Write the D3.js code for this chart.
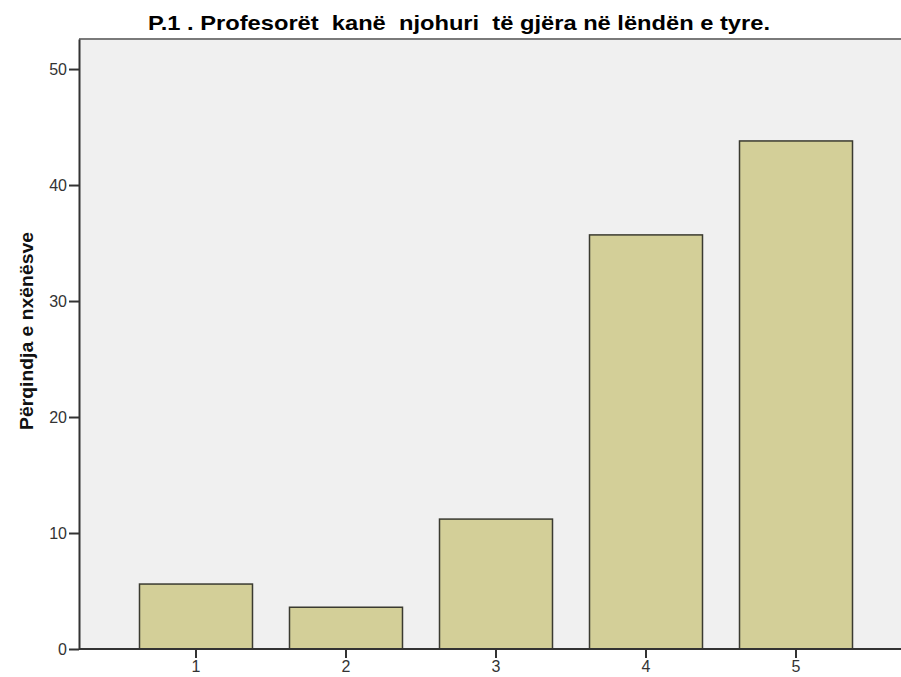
<!DOCTYPE html>
<html>
<head>
<meta charset="utf-8">
<script src="https://cdn.jsdelivr.net/npm/d3@7"></script>
<style>
  body { margin: 0; background: #fff; }
  svg { display: block; }
</style>
</head>
<body>
<svg id="chart" width="901" height="677"></svg>
<script>
(function(){
    // data
    let categories = ["1", "2", "3", "4", "5"]
    let percents = [5.6, 3.6, 11.2, 35.7, 43.8]
    let yTicks = [0, 10, 20, 30, 40, 50]
    let title = "P.1 . Profesorët  kanë  njohuri  të gjëra në lëndën e tyre."
    let yLabel = "Përqindja e nxënësve"

    let data = categories.map((c, i) => ({label: c, value: percents[i]}))

    let plot = {left: 79, top: 39, right: 901, bottom: 649}

    let svg = d3.select("svg#chart")

    // plot background
    svg.append("rect")
        .attr("x", plot.left)
        .attr("y", plot.top)
        .attr("width", plot.right - plot.left)
        .attr("height", plot.bottom - plot.top)
        .attr("fill", "#f0f0f0")

    // top frame line
    svg.append("line")
        .attr("x1", plot.left).attr("x2", plot.right)
        .attr("y1", plot.top).attr("y2", plot.top)
        .attr("stroke", "#7a7a7a")
        .attr("stroke-width", 2)

    let yScale = d3.scaleLinear()
        .domain([0, 52.59])
        .range([plot.bottom, plot.top])

    let xScale = d3.scaleBand()
        .domain(categories)
        .range([121, 871])
        .paddingInner(0.2467)
        .paddingOuter(0.1233)

    svg.selectAll("rect.bar")
        .data(data)
        .enter()
        .append("rect")
            .attr("class", "bar")
            .attr("x", (d) => xScale(d.label))
            .attr("y", (d) => yScale(d.value))
            .attr("width", xScale.bandwidth())
            .attr("height", (d) => yScale(0) - yScale(d.value))
            .attr("fill", "#d3cf98")
            .attr("stroke", "#3a3a30")
            .attr("stroke-width", 1.5)

    // y axis
    let yAxis = svg.append("g")
        .attr("transform", "translate(" + plot.left + ",0)")
        .call(d3.axisLeft(yScale).tickValues(yTicks).tickSize(10).tickPadding(2).tickSizeOuter(0))
    yAxis.attr("font-size", 16).attr("font-family", "Liberation Sans, Arial, sans-serif")
    yAxis.select(".domain").attr("stroke", "#333").attr("stroke-width", 2)
    yAxis.selectAll(".tick line").attr("stroke", "#333").attr("stroke-width", 2)
    yAxis.selectAll(".tick text").attr("fill", "#333")

    // x axis
    let xAxis = svg.append("g")
        .attr("transform", "translate(0," + plot.bottom + ")")
        .call(d3.axisBottom(xScale).tickSize(9).tickPadding(3).tickSizeOuter(0))
    xAxis.attr("font-size", 16).attr("font-family", "Liberation Sans, Arial, sans-serif")
    xAxis.select(".domain")
        .attr("d", "M" + plot.left + ",0H" + plot.right)
        .attr("stroke", "#333").attr("stroke-width", 2)
    xAxis.selectAll(".tick line").attr("stroke", "#333").attr("stroke-width", 2)
    xAxis.selectAll(".tick text").attr("fill", "#333")

    // title
    svg.append("text")
        .attr("x", 459)
        .attr("y", 30)
        .attr("text-anchor", "middle")
        .attr("font-family", "Liberation Sans, Arial, sans-serif")
        .attr("font-weight", "bold")
        .attr("font-size", "21px")
        .attr("textLength", 622)
        .attr("lengthAdjust", "spacingAndGlyphs")
        .style("white-space", "pre")
        .text(title)

    // y label
    svg.append("text")
        .attr("transform", "translate(33,331) rotate(-90)")
        .attr("text-anchor", "middle")
        .attr("font-family", "Liberation Sans, Arial, sans-serif")
        .attr("font-weight", "bold")
        .attr("font-size", "18px")
        .attr("textLength", 198)
        .attr("lengthAdjust", "spacingAndGlyphs")
        .attr("fill", "#111")
        .text(yLabel)
})()
</script>
</body>
</html>
